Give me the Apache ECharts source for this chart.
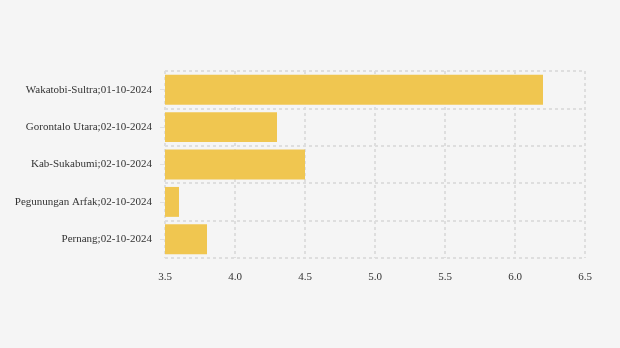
<!DOCTYPE html>
<html><head><meta charset="utf-8">
<script src="https://cdn.jsdelivr.net/npm/echarts@6/dist/echarts.min.js"></script>
<style>html,body{margin:0;padding:0;background:#f5f5f5}#c{width:620px;height:348px}</style>
</head><body><div id="c"></div>
<script>
var categories = ["Wakatobi-Sultra;01-10-2024","Gorontalo Utara;02-10-2024","Kab-Sukabumi;02-10-2024","Pegunungan Arfak;02-10-2024","Pernang;02-10-2024"];
var values = [6.2, 4.3, 4.5, 3.6, 3.8];
var xMin = 3.5, xMax = 6.5, xInterval = 0.5;

var chart = echarts.init(document.getElementById('c'), null, {renderer:'canvas'});
chart.setOption({
  backgroundColor: '#f5f5f5',
  animation: false,
  textStyle: {fontFamily: 'Liberation Serif'},
  grid: {left: 165, right: 35, top: 71, bottom: 90, containLabel: false},
  xAxis: {
    type: 'value', min: xMin, max: xMax, interval: xInterval,
    axisLine: {show: false}, axisTick: {show: false},
    axisLabel: {color: '#333', fontSize: 11, fontFamily: 'Liberation Serif', margin: 14,
      formatter: function(v){return v.toFixed(1);}},
    splitLine: {show: true, lineStyle: {color: '#dedede', type: [3,3], width: 2}}
  },
  yAxis: {
    type: 'category', data: categories, inverse: true,
    axisLine: {show: false},
    axisTick: {show: true, alignWithLabel: true, length: 5, lineStyle: {color: '#e0e0e0'}},
    axisLabel: {color: '#333', fontSize: 11, fontFamily: 'Liberation Serif', margin: 13},
    splitLine: {show: true, lineStyle: {color: '#dedede', type: [3,3], width: 2}}
  },
  series: [{
    type: 'bar', data: values, barCategoryGap: '20%',
    itemStyle: {color: '#f0c650'}
  }]
});
</script></body></html>
